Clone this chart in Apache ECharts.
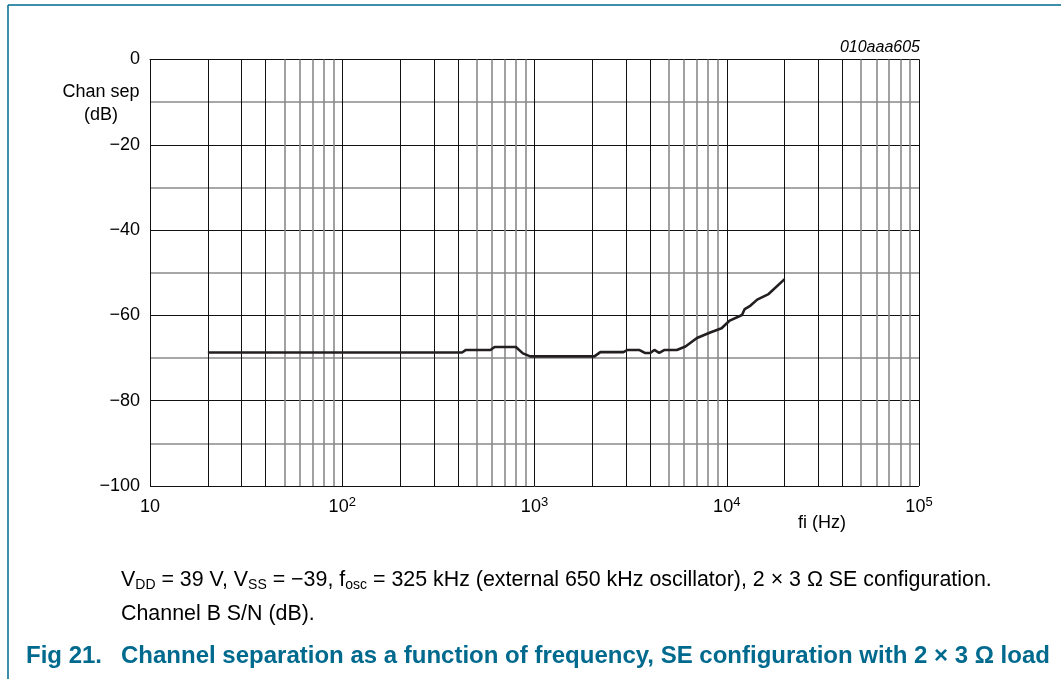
<!DOCTYPE html>
<html><head><meta charset="utf-8">
<script src="https://cdn.jsdelivr.net/npm/echarts@6/dist/echarts.min.js"></script>
<style>html,body{margin:0;padding:0;background:#fff}#c{width:1061px;height:679px}</style>
</head><body><div id="c"></div>
<script>
// Data
var freqHz = [20, 420, 440, 590, 620, 800, 870, 950, 2050, 2200, 2900, 3050, 3500, 3750, 4000, 4200, 4450, 4750, 5500, 6100, 7000, 8200, 9400, 10300, 12000, 12400, 13300, 14400, 16500, 20000];
var chanSepDb = [-68.7, -68.7, -68.1, -68.1, -67.4, -67.4, -68.9, -69.6, -69.6, -68.6, -68.6, -68.1, -68.1, -68.8, -68.8, -68.1, -68.8, -68.1, -68.1, -67.3, -65.3, -64.0, -63.0, -61.3, -59.9, -58.5, -57.7, -56.3, -55.0, -51.5];
var yTicks = [0, -20, -40, -60, -80, -100];
var decades = [10, 100, 1000, 10000];
var minorMultDark = [2, 3, 4];
var minorMultGray = [5, 6, 7, 8, 9];

var teal = '#006a8e';
var F = 'Liberation Sans, Arial, sans-serif';

var mlData = [];
decades.forEach(function (d) {
  minorMultDark.forEach(function (m) {
    mlData.push({ xAxis: d * m, lineStyle: { color: '#111', width: 1, type: 'solid' } });
  });
  minorMultGray.forEach(function (m) {
    mlData.push({ xAxis: d * m, lineStyle: { color: '#8a8a8a', width: 1.6, type: 'solid' } });
  });
});

var supMap = { 100: '2', 1000: '3', 10000: '4', 100000: '5' };
function minus(v) { return String(v).replace('-', '\u2212'); }

var chart = echarts.init(document.getElementById('c'), null, { renderer: 'canvas' });
chart.setOption({
  animation: false,
  backgroundColor: '#fff',
  grid: { left: 150, top: 59.5, width: 769, height: 426.5, containLabel: false },
  xAxis: {
    type: 'log', logBase: 10, min: 10, max: 100000,
    axisLine: { show: true, lineStyle: { color: '#111', width: 1 } },
    axisTick: { show: false },
    splitLine: { show: true, lineStyle: { color: '#111', width: 1 } },
    axisLabel: {
      margin: 10, color: '#000', fontFamily: F, fontSize: 18,
      formatter: function (v) {
        var r = Math.round(v);
        if (r === 10) return '{b|10}';
        return '{b|10}{s|' + supMap[r] + '}';
      },
      rich: {
        b: { fontFamily: F, fontSize: 18, color: '#000', lineHeight: 22 },
        s: { fontFamily: F, fontSize: 13, color: '#000', padding: [0, 0, 9, 0] }
      }
    }
  },
  yAxis: {
    type: 'value', min: -100, max: 0, interval: 20,
    axisLine: { show: true, lineStyle: { color: '#111', width: 1 } },
    axisTick: { show: false },
    splitLine: { show: true, lineStyle: { color: '#111', width: 1 } },
    minorTick: { show: false, splitNumber: 2 },
    minorSplitLine: { show: true, lineStyle: { color: '#8a8a8a', width: 1.6 } },
    axisLabel: {
      margin: 10, color: '#000', fontFamily: F, fontSize: 18,
      formatter: function (v) { return minus(v); }
    }
  },
  series: [
    {
      type: 'line', data: [], z: 1, silent: true,
      markLine: { silent: true, symbol: ['none', 'none'], label: { show: false }, animation: false, data: mlData }
    },
    {
      type: 'line', z: 5, showSymbol: false, symbol: 'none',
      lineStyle: { color: '#231f20', width: 2.6 },
      data: freqHz.map(function (f, i) { return [f, chanSepDb[i]]; })
    }
  ],
  graphic: [
    { type: 'line', shape: { x1: 8, y1: 5, x2: 1061, y2: 5 }, style: { stroke: teal, lineWidth: 1.5 } },
    { type: 'line', shape: { x1: 8, y1: 5, x2: 8, y2: 679 }, style: { stroke: teal, lineWidth: 1.5 } },
    { type: 'text', x: 101, y: 92, style: { text: 'Chan sep', font: '18px ' + F, fill: '#000', align: 'center', verticalAlign: 'middle' } },
    { type: 'text', x: 101, y: 115, style: { text: '(dB)', font: '18px ' + F, fill: '#000', align: 'center', verticalAlign: 'middle' } },
    { type: 'text', x: 920, y: 48, style: { text: '010aaa605', font: 'italic 16px ' + F, fill: '#000', align: 'right', verticalAlign: 'middle' } },
    { type: 'text', x: 822, y: 523, style: { text: 'fi (Hz)', font: '18px ' + F, fill: '#000', align: 'center', verticalAlign: 'middle' } },
    {
      type: 'text', x: 121, y: 580.5,
      style: {
        text: 'V{s|DD} = 39 V, V{s|SS} = \u221239, f{s|osc} = 325 kHz (external 650 kHz oscillator), 2 \u00d7 3 \u03a9 SE configuration.',
        font: '21.4px ' + F, fill: '#000', verticalAlign: 'middle',
        rich: { s: { fontFamily: F, fontSize: 14, fill: '#000', padding: [9, 0, 0, 0] } }
      }
    },
    { type: 'text', x: 121, y: 614.5, style: { text: 'Channel B S/N (dB).', font: '21.4px ' + F, fill: '#000', verticalAlign: 'middle' } },
    { type: 'text', x: 26, y: 656.5, style: { text: 'Fig 21.', font: 'bold 24px ' + F, fill: teal, verticalAlign: 'middle' } },
    { type: 'text', x: 121, y: 656.5, style: { text: 'Channel separation as a function of frequency, SE configuration with 2 \u00d7 3 \u03a9 load', font: 'bold 24px ' + F, fill: teal, verticalAlign: 'middle' } }
  ]
});
</script></body></html>
